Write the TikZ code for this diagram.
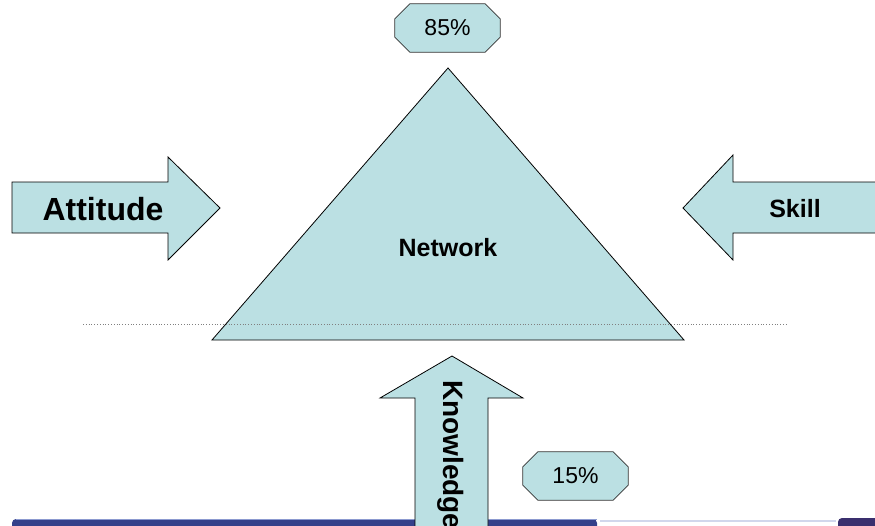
\documentclass[tikz,border=0pt]{standalone}
\usepackage{fontspec}
\setmainfont{Liberation Sans}
\usetikzlibrary{calc}
\definecolor{panel}{HTML}{BBE0E3}
\definecolor{barblue}{HTML}{34408A}
\definecolor{barhi}{HTML}{8C9AD0}
\definecolor{barplum}{HTML}{3A2F6E}
\tikzset{
  shapefill/.style={fill=panel, draw=black, line width=0.8pt, line join=miter},
  tag/.style={rectangle, minimum width=105pt, minimum height=48pt,
    inner sep=0pt, font=\fontsize{23}{23}\selectfont},
  tagframe/.style={fill=panel, draw=black!80, line width=0.8pt},
  boldlabel/.style={inner sep=0pt, font=\bfseries\fontsize{#1}{#1}\selectfont},
}
% octagonal frame around a named node, corner cut #2
\newcommand{\octframe}[2]{%
  \draw[tagframe]
    ($(#1.north west)+(#2,0)$) -- ($(#1.north east)+(-#2,0)$)
    -- ($(#1.north east)+(0,#2)$) -- ($(#1.south east)+(0,-#2)$)
    -- ($(#1.south east)+(-#2,0)$) -- ($(#1.south west)+(#2,0)$)
    -- ($(#1.south west)+(0,-#2)$) -- ($(#1.north west)+(0,#2)$) -- cycle;}
\begin{document}
\begin{tikzpicture}[x=1pt, y=-1pt]
  \useasboundingbox (0,0) rectangle (875,525);
  \clip (0,0) rectangle (875,525);

  % slide footer bars
  \fill[barblue, rounded corners=4pt] (12,519) rectangle (597,532);
  \draw[barhi, line width=1pt] (16,519.5) -- (597,519.5);
  \fill[barhi!40] (600,520) rectangle (836,522);
  \fill[barplum, rounded corners=4pt] (838,518) rectangle (885,532);

  % central triangle
  \draw[shapefill] (448,68) -- (684,340) -- (212,340) -- cycle;
  \node[boldlabel=25] (net) at (448,248) {Network};

  % horizontal dotted guide
  \coordinate (gl) at (83,324);
  \coordinate (gr) at (787,324);
  \draw[gray, dotted, line width=0.8pt] (gl) -- (gr);

  % attitude arrow (pointing right)
  \draw[shapefill] (12,182) -- (168,182) -- (168,157) -- (220,208) -- (168,260)
    -- (168,233) -- (12,233) -- cycle;
  \node[boldlabel=32] (att) at (103,209) {Attitude};

  % skill arrow (pointing left)
  \draw[shapefill] (890,182) -- (733,182) -- (733,155) -- (683,208) -- (733,260)
    -- (733,233) -- (890,233);
  \node[boldlabel=25] (skill) at (795,209) {Skill};

  % knowledge arrow (pointing up)
  \draw[shapefill] (415,540) -- (415,398) -- (380,398) -- (452,356) -- (523,398)
    -- (488,398) -- (488,540);
  \node[boldlabel=28, rotate=-90, anchor=west] (know) at (451,380) {Knowledge};

  % percentage tags
  \node[tag] (top) at (447.5,28) {};
  \octframe{top}{15}
  \node[tag] at (top) {85\%};
  \node[tag] (low) at (575.5,476) {};
  \octframe{low}{15}
  \node[tag] at (low) {15\%};
\end{tikzpicture}
\end{document}
